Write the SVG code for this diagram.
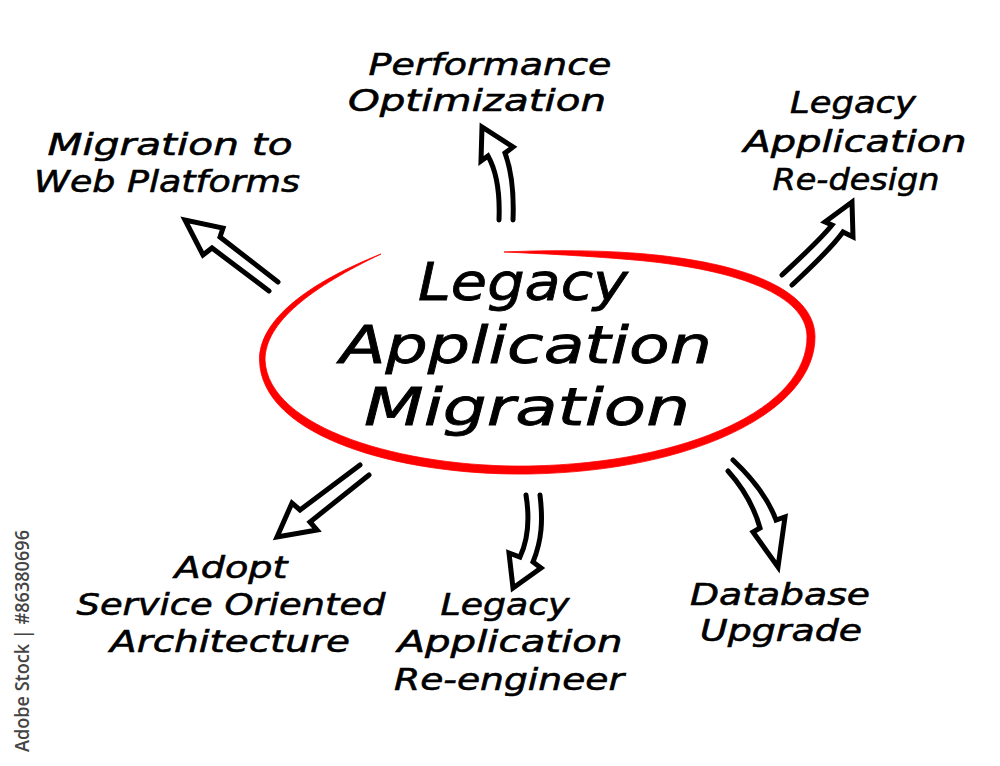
<svg xmlns="http://www.w3.org/2000/svg" width="1000" height="766" viewBox="0 0 1000 766">
<style>
.lbl{font-family:"DejaVu Sans","Liberation Sans",sans-serif;font-style:italic;font-size:31px;fill:#000;stroke:#000;stroke-width:0.6;text-anchor:middle}
.title{font-family:"DejaVu Sans","Liberation Sans",sans-serif;font-style:italic;font-size:52px;fill:#000;stroke:#000;stroke-width:0.8;text-anchor:middle}
.arrow{fill:none;stroke:#000;stroke-width:5;stroke-linejoin:miter;stroke-linecap:round}
.ring{fill:#ff0000;stroke:#ff0000;stroke-width:0.8;stroke-linejoin:round}
.wm{font-family:"Open Sans","DejaVu Sans",sans-serif;font-size:19px;font-weight:600;fill:#444}
</style>
<rect width="1000" height="766" fill="#fff"/>
<g id="center">
  <path class="ring" d="M 381,254 C 308,283 259,320 259.5,360 C 261,436 398,476 530,474 C 692,471 816,412 815,336 C 814,289 742,262 640,253.5 C 590,249.5 540,250.5 504,252 C 540,253.5 590,256 640,260.5 C 738,270 806,295 807,336 C 808,408 688,463 530,466 C 402,468 268,428 265,360 C 265,322 312,287 381,254 Z"/>
  <text class="title" x="523" y="300" textLength="210" lengthAdjust="spacingAndGlyphs">Legacy</text>
  <text class="title" x="526" y="363" textLength="372" lengthAdjust="spacingAndGlyphs">Application</text>
  <text class="title" x="527" y="425" textLength="326" lengthAdjust="spacingAndGlyphs">Migration</text>
</g>
<g id="node-performance">
  <text class="lbl" x="490" y="75" textLength="243" lengthAdjust="spacingAndGlyphs">Performance</text>
  <text class="lbl" x="477" y="111" textLength="258" lengthAdjust="spacingAndGlyphs">Optimization</text>
</g>
<g id="node-web">
  <text class="lbl" x="170" y="155" textLength="245" lengthAdjust="spacingAndGlyphs">Migration to</text>
  <text class="lbl" x="167" y="192" textLength="266" lengthAdjust="spacingAndGlyphs">Web Platforms</text>
</g>
<g id="node-redesign">
  <text class="lbl" x="853" y="113" textLength="126" lengthAdjust="spacingAndGlyphs">Legacy</text>
  <text class="lbl" x="855" y="152" textLength="223" lengthAdjust="spacingAndGlyphs">Application</text>
  <text class="lbl" x="856" y="190" textLength="167" lengthAdjust="spacingAndGlyphs">Re-design</text>
</g>
<g id="node-soa">
  <text class="lbl" x="231" y="578" textLength="113" lengthAdjust="spacingAndGlyphs">Adopt</text>
  <text class="lbl" x="231" y="615" textLength="309" lengthAdjust="spacingAndGlyphs">Service Oriented</text>
  <text class="lbl" x="230" y="652" textLength="240" lengthAdjust="spacingAndGlyphs">Architecture</text>
</g>
<g id="node-reengineer">
  <text class="lbl" x="505" y="615" textLength="129" lengthAdjust="spacingAndGlyphs">Legacy</text>
  <text class="lbl" x="510" y="652" textLength="225" lengthAdjust="spacingAndGlyphs">Application</text>
  <text class="lbl" x="509" y="690" textLength="230" lengthAdjust="spacingAndGlyphs">Re-engineer</text>
</g>
<g id="node-database">
  <text class="lbl" x="780" y="605" textLength="180" lengthAdjust="spacingAndGlyphs">Database</text>
  <text class="lbl" x="781" y="641" textLength="162" lengthAdjust="spacingAndGlyphs">Upgrade</text>
</g>
<g id="connectors">
  <path class="arrow" d="M 269,291 L 212,248 L 203,255 L 185,220 L 223,228 L 220,237 L 278,282"/>
  <path class="arrow" d="M 499,220 C 500,195 497,172 488,156 L 481,161 L 482,127 L 513,147 L 505,153 C 512,172 514,195 513,220"/>
  <path class="arrow" d="M 782,275 C 800,258 820,240 832,225 L 825,222 L 852,202 L 853,237 L 843,232 C 830,250 810,268 792,285"/>
  <path class="arrow" d="M 360,465 L 300,510 L 292,503 L 277,537 L 317,530 L 310,522 L 369,475"/>
  <path class="arrow" d="M 526,495 C 530,520 528,540 520,557 L 509,553 L 513,588 L 541,568 L 533,562 C 542,540 543,520 540,495"/>
  <path class="arrow" d="M 728,471 C 745,490 755,510 760,528 L 753,532 L 778,567 L 785,517 L 776,520 C 768,498 752,478 733,460"/>
</g>
<text class="wm" transform="translate(29,752) rotate(-90)" textLength="222" lengthAdjust="spacingAndGlyphs">Adobe Stock | #86380696</text>
</svg>
